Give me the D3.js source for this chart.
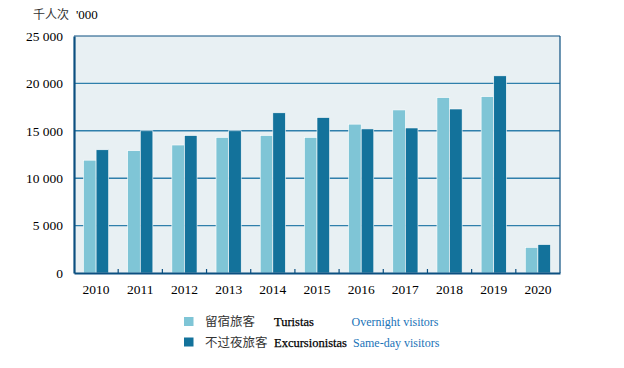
<!DOCTYPE html>
<html><head><meta charset="utf-8">
<script src="https://cdn.jsdelivr.net/npm/d3@7"></script>
<style>body{margin:0;background:#fff}svg{display:block}</style>
</head><body>
<svg id="c" width="624" height="368"></svg>
<script>
const years = ["2010","2011","2012","2013","2014","2015","2016","2017","2018","2019","2020"];
const overnight = [11900,12900,13500,14300,14500,14300,15700,17200,18500,18600,2700];
const sameDay = [13000,15000,14500,15000,16900,16400,15200,15300,17300,20800,3000];
const yTicks = [0,5000,10000,15000,20000,25000];
const seriesNames = [
  {zh:"留宿旅客", pt:"Turistas", en:"Overnight visitors"},
  {zh:"不过夜旅客", pt:"Excursionistas", en:"Same-day visitors"}
];
const colors = ["#7fc5d6","#13729b"];

const svg = d3.select("#c");
const m = {l:74, r:560, t:36, b:273};
const x = d3.scaleBand().domain(years).range([m.l, m.r]).paddingInner(0).paddingOuter(0);
const y = d3.scaleLinear().domain([0,25000]).range([m.b, m.t]);
const serif = "'Liberation Serif','Times New Roman',serif";
const cjk = "'Noto Sans CJK SC','Noto Sans',sans-serif";

svg.append("rect").attr("x",m.l).attr("y",m.t).attr("width",m.r-m.l).attr("height",m.b-m.t).attr("fill","#e8f0f3");

// gridlines
svg.append("g").selectAll("line").data(yTicks.filter(d=>d>0 && d<25000)).join("line")
  .attr("x1",m.l).attr("x2",m.r).attr("y1",d=>y(d)).attr("y2",d=>y(d))
  .attr("stroke","#2f7fab").attr("stroke-width",1.4);

// bars
const bw = x.bandwidth()*0.285;
const g = svg.append("g");
years.forEach((yr,i)=>{
  const cx = x(yr)+x.bandwidth()/2;
  [overnight[i], sameDay[i]].forEach((v,j)=>{
    g.append("rect")
      .attr("x", cx - bw + j*bw)
      .attr("y", y(v))
      .attr("width", bw)
      .attr("height", y(0)-y(v))
      .attr("fill", colors[j])
      .attr("stroke","#ffffff").attr("stroke-width",0.6);
  });
});

// frame
svg.append("line").attr("x1",m.l).attr("x2",m.r).attr("y1",m.t).attr("y2",m.t).attr("stroke","#0b4f80").attr("stroke-width",1.2);
svg.append("line").attr("x1",m.r).attr("x2",m.r).attr("y1",m.t).attr("y2",m.b).attr("stroke","#0b4f80").attr("stroke-width",1.2);

// axes
const yAxis = d3.axisLeft(y).tickValues(yTicks).tickSize(0).tickPadding(11)
  .tickFormat(d=>d3.format(",")(d).replace(/,/g," "));
const ya = svg.append("g").attr("transform",`translate(${m.l},0)`).call(yAxis);
ya.select(".domain").attr("stroke","#0b4f80").attr("stroke-width",2.2);
ya.selectAll("text").attr("font-family",serif).attr("font-size",13.5).attr("fill","#000");

const xAxis = d3.axisBottom(x).tickSize(0).tickPadding(11);
const xa = svg.append("g").attr("transform",`translate(0,${m.b})`).call(xAxis);
xa.select(".domain").attr("stroke","#0b4f80").attr("stroke-width",2.2);
xa.selectAll("text").attr("font-family",serif).attr("font-size",13.5).attr("fill","#000");
// inner tick marks between categories
svg.append("g").selectAll("line").data(years.slice(1)).join("line")
  .attr("x1",d=>x(d)).attr("x2",d=>x(d)).attr("y1",m.b).attr("y2",m.b-4)
  .attr("stroke","#0b4f80").attr("stroke-width",1.2);

// unit label
svg.append("text").attr("x",33).attr("y",19).attr("font-family",cjk).attr("font-size",12).attr("fill","#333").text("千人次");
svg.append("text").attr("x",76).attr("y",19).attr("font-family",serif).attr("font-size",13).attr("fill","#000").text("'000");

// legend
const lg = svg.append("g");
seriesNames.forEach((s,i)=>{
  const yy = 317 + i*20.5;
  lg.append("rect").attr("x",184).attr("y",yy).attr("width",9.5).attr("height",9).attr("fill",colors[i]);
  lg.append("text").attr("x",205).attr("y",yy+9).attr("font-family",cjk).attr("font-size",12.5).attr("fill","#333").text(s.zh);
  lg.append("text").attr("x",274).attr("y",yy+9).attr("font-family",serif).attr("font-size",12.5).attr("fill","#000")
    .attr("stroke","#000").attr("stroke-width",0.25).text(s.pt);
  lg.append("text").attr("x",i===0?351.5:353).attr("y",yy+9).attr("font-family",serif).attr("font-size",12).attr("fill","#1a73b8").text(s.en);
});
</script>
</body></html>
